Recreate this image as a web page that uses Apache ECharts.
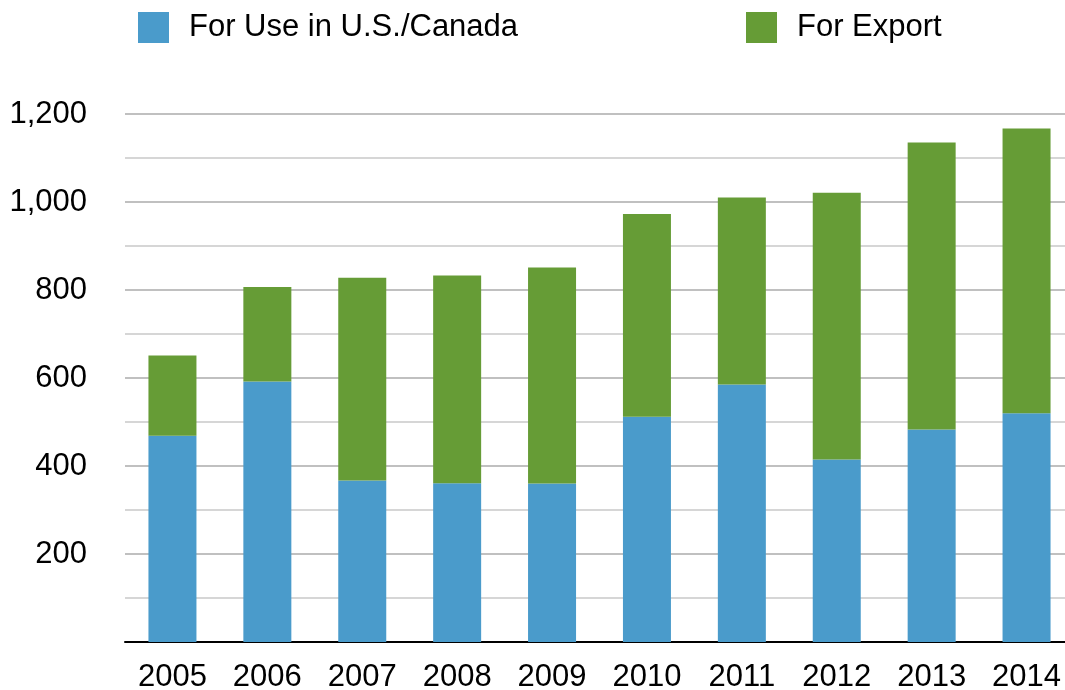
<!DOCTYPE html>
<html>
<head>
<meta charset="utf-8">
<script src="https://cdn.jsdelivr.net/npm/echarts@6/dist/echarts.min.js"></script>
<style>
html,body{margin:0;padding:0;background:#fff;overflow:hidden;width:1065px;height:690px;}
#chart{width:1080px;height:690px;}
</style>
</head>
<body>
<div id="chart"></div>
<script>
var years = ['2005','2006','2007','2008','2009','2010','2011','2012','2013','2014'];
var useUSCanada = [469, 592, 367, 361, 360, 512, 585, 415, 483, 520];
var forExport = [182, 215, 461, 472, 491, 461, 425, 606, 652, 647];
var seriesNames = ['For Use in U.S./Canada', 'For Export'];
var colors = ['#4a9bcb', '#669c36'];

var FONT = "'Liberation Sans', Arial, Helvetica, sans-serif";
var chart = echarts.init(document.getElementById('chart'));
chart.setOption({
  animation: false,
  backgroundColor: '#ffffff',
  color: colors,
  legend: [
    {
      data: [seriesNames[0]], left: 138, top: 12, padding: 0,
      itemWidth: 31, itemHeight: 31, icon: 'rect',
      textStyle: { fontFamily: FONT, fontSize: 31, color: '#000', padding: [4,0,0,15] }
    },
    {
      data: [seriesNames[1]], left: 746, top: 12, padding: 0,
      itemWidth: 31, itemHeight: 31, icon: 'rect',
      textStyle: { fontFamily: FONT, fontSize: 31, color: '#000', padding: [4,0,0,15] }
    }
  ],
  grid: { left: 125, top: 114, width: 949, height: 528, containLabel: false, outerBoundsMode: 'none' },
  xAxis: {
    type: 'category',
    data: years,
    axisLine: { show: true, lineStyle: { color: '#000', width: 2 } },
    axisTick: { show: false },
    axisLabel: { fontFamily: FONT, fontSize: 31, color: '#000', margin: 20 }
  },
  yAxis: {
    type: 'value',
    min: 0, max: 1200, interval: 200,
    axisLine: { show: false },
    axisTick: { show: false },
    axisLabel: {
      fontFamily: FONT, fontSize: 31, color: '#000', margin: 38, padding: [5,0,0,0],
      formatter: function (v) { return v === 0 ? '' : v.toLocaleString('en-US'); }
    },
    splitLine: { show: true, lineStyle: { color: '#c0c0c0', width: 2 } },
    minorTick: { show: false, splitNumber: 2 },
    minorSplitLine: { show: true, lineStyle: { color: '#d6d6d6', width: 2 } }
  },
  series: [
    { name: seriesNames[0], type: 'bar', stack: 'total', data: useUSCanada, barWidth: 48, itemStyle: { color: colors[0] } },
    { name: seriesNames[1], type: 'bar', stack: 'total', data: forExport, barWidth: 48, itemStyle: { color: colors[1] } }
  ]
});
</script>
</body>
</html>
